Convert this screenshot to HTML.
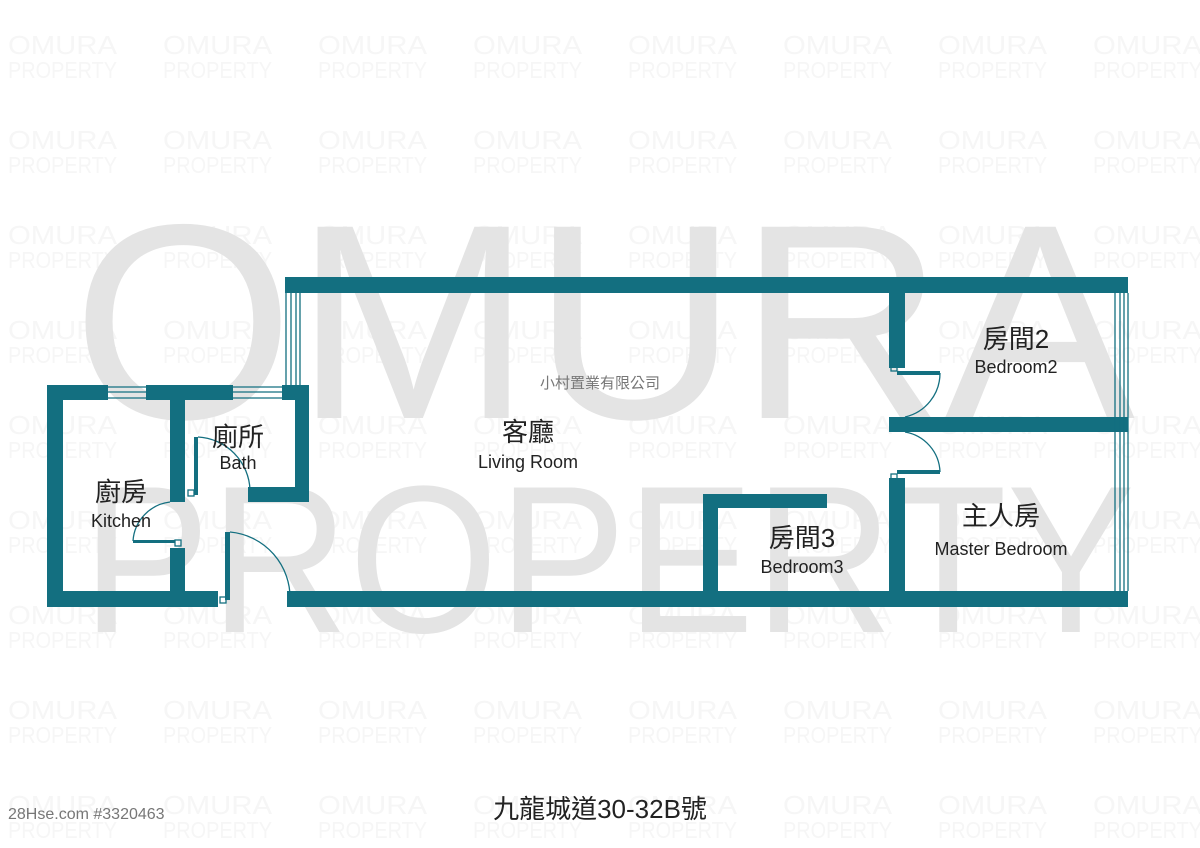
<!DOCTYPE html>
<html><head><meta charset="utf-8"><style>
html,body{margin:0;padding:0;background:#fff;width:1200px;height:848px;overflow:hidden}
svg{display:block}
text{font-family:"Liberation Sans","Noto Sans CJK TC",sans-serif}
</style></head><body>
<svg width="1200" height="848" viewBox="0 0 1200 848" xmlns="http://www.w3.org/2000/svg">
<defs>
<pattern id="wm" x="8" y="0" width="155" height="95" patternUnits="userSpaceOnUse">
<text x="0" y="54" font-size="26" fill="#f6f6f6" textLength="109" lengthAdjust="spacingAndGlyphs">OMURA</text>
<text x="0" y="78" font-size="23" fill="#f6f6f6" textLength="109" lengthAdjust="spacingAndGlyphs">PROPERTY</text>
</pattern>
</defs>
<rect width="1200" height="848" fill="url(#wm)"/>
<!-- big watermark -->
<text x="72" y="418" font-size="278" fill="#e4e4e4" textLength="1063" lengthAdjust="spacingAndGlyphs">OMURA</text>
<text x="82" y="632" font-size="210" fill="#e4e4e4" textLength="1053" lengthAdjust="spacingAndGlyphs">PROPERTY</text>

<g fill="#136f80">
<rect x="285" y="277" width="843" height="16"/>
<rect x="889" y="293" width="16" height="75"/>
<rect x="889" y="478" width="16" height="122"/>
<rect x="889" y="417" width="239" height="15"/>
<rect x="287" y="591" width="841" height="16"/>
<rect x="48" y="591" width="170" height="16"/>
<rect x="703" y="494" width="15" height="100"/>
<rect x="703" y="494" width="124" height="14"/>
<rect x="47" y="385" width="16" height="222"/>
<rect x="47" y="385" width="61" height="15"/>
<rect x="146" y="385" width="87" height="15"/>
<rect x="282" y="385" width="27" height="15"/>
<rect x="295" y="385" width="14" height="117"/>
<rect x="248" y="487" width="61" height="15"/>
<rect x="170" y="400" width="15" height="102"/>
<rect x="170" y="548" width="15" height="52"/>
<rect x="897" y="371" width="43" height="4"/>
<rect x="897" y="470" width="43" height="4"/>
<rect x="194" y="437" width="4" height="58"/>
<rect x="133" y="540" width="42" height="3"/>
<rect x="225" y="532" width="5" height="68"/>
</g>
<g fill="none" stroke="#136f80" stroke-width="1.3">
<path d="M286 293V385 M291 293V385 M296 293V385 M300 293V385"/>
<path d="M1115 293V591 M1120 293V591 M1124 293V591 M1128 293V591"/>
<path d="M108 387H146 M108 392H146 M108 398H146"/>
<path d="M233 387H282 M233 392H282 M233 398H282"/>
<path d="M940 373 A45 45 0 0 1 905 417"/>
<path d="M905 432 A42 42 0 0 1 940 472"/>
<path d="M198 437 A55 55 0 0 1 250 490"/>
<path d="M133 541 A42 42 0 0 1 170 502"/>
<path d="M230 532 A66 66 0 0 1 290 600"/>
<rect x="891" y="365" width="6" height="6"/>
<rect x="891" y="474" width="6" height="5"/>
<rect x="188" y="490" width="6" height="6"/>
<rect x="175" y="540" width="6" height="6"/>
<rect x="220" y="597" width="6" height="6"/>
</g>

<g fill="#222" text-anchor="middle">
<text x="528" y="441" font-size="26">客廳</text>
<text x="528" y="468" font-size="18">Living Room</text>
<text x="238" y="446" font-size="26">廁所</text>
<text x="238" y="469" font-size="18">Bath</text>
<text x="121" y="501" font-size="26">廚房</text>
<text x="121" y="527" font-size="18">Kitchen</text>
<text x="1016" y="348" font-size="26">房間2</text>
<text x="1016" y="373" font-size="18">Bedroom2</text>
<text x="1001" y="525" font-size="26">主人房</text>
<text x="1001" y="555" font-size="18">Master Bedroom</text>
<text x="802" y="547" font-size="26">房間3</text>
<text x="802" y="573" font-size="18">Bedroom3</text>
<text x="600" y="388" font-size="15" fill="#777">小村置業有限公司</text>
<text x="600" y="818" font-size="26">九龍城道30-32B號</text>
</g>
<text x="8" y="819" font-size="16" fill="#777">28Hse.com #3320463</text>
</svg>
</body></html>
